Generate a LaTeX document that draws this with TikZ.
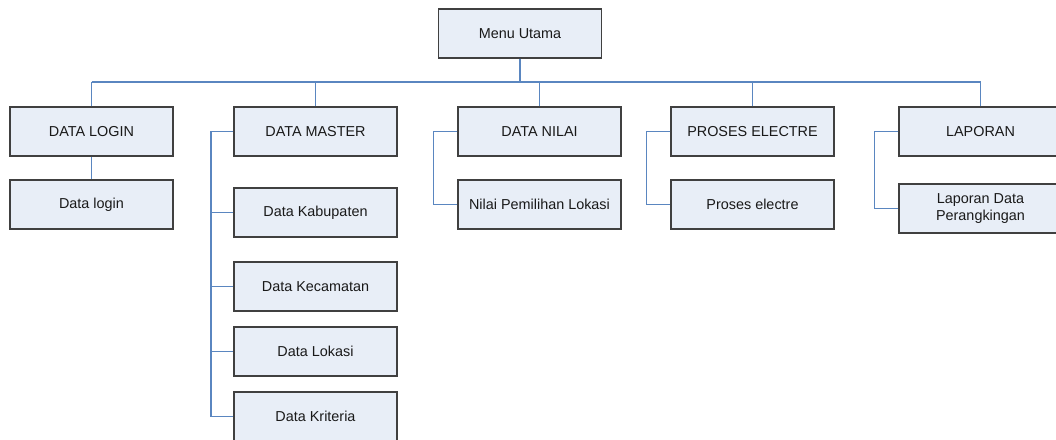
\documentclass[tikz,border=0pt]{standalone}
\usepackage{fontspec}
\setmainfont{Liberation Sans}
\definecolor{boxfill}{HTML}{E8EEF7}
\definecolor{boxline}{HTML}{404040}
\definecolor{linkblue}{HTML}{5A86C0}
\begin{document}
\begin{tikzpicture}[x=1pt,y=-1pt,
  menubox/.style={draw=boxline,fill=boxfill,line width=1.3pt,minimum width=163pt,minimum height=49pt,
    inner sep=0pt,align=center,font=\fontsize{14.4}{16.5}\selectfont,text=black!90},
  link/.style={draw=linkblue,line width=1.1pt}]
\clip (0,0) rectangle (1056,439);
\fill[white] (0,0) rectangle (1056,439);

% top level
\node[menubox] (menu) at (520,33.5) {Menu Utama};

% second level
\node[menubox] (login)  at (91.5,131.5)  {DATA LOGIN};
\node[menubox] (master) at (315.5,131.5) {DATA MASTER};
\node[menubox] (nilai)  at (539.5,131.5) {DATA NILAI};
\node[menubox] (proses) at (752.5,131.5) {PROSES ELECTRE};
\node[menubox] (lap)    at (980.5,131.5) {LAPORAN};

% third level
\node[menubox] (dlogin) at (91.5,204.5)  {Data login};
\node[menubox] (kab)    at (315.5,212.5) {Data Kabupaten};
\node[menubox] (kec)    at (315.5,286.5) {Data Kecamatan};
\node[menubox] (lok)    at (315.5,351.5) {Data Lokasi};
\node[menubox] (krit)   at (315.5,416.5) {Data Kriteria};
\node[menubox] (npl)    at (539.5,204.5) {Nilai Pemilihan Lokasi};
\node[menubox] (pel)    at (752.5,204.5) {Proses electre};
\node[menubox] (lpd)    at (980.5,208.5) {Laporan Data\\Perangkingan};

% bus under the main menu
\coordinate (busL) at (91.5,82);
\coordinate (busR) at (980.5,82);
\draw[link] (busL) -- (busR);
\draw[link] (menu.south) -- (menu.south |- busL);
\foreach \n in {login,master,nilai,proses,lap}
  \draw[link] (\n.north) -- (\n.north |- busL);

% children
\draw[link] (login.south) -- (dlogin.north);
\coordinate (mtrunk) at (211,131.5);
\draw[link] (master.west) -- (mtrunk) |- (krit.west);
\foreach \n in {kab,kec,lok}
  \draw[link] (mtrunk |- \n.west) -- (\n.west);
\draw[link] (nilai.west) -- ++(-24,0) |- (npl.west);
\draw[link] (proses.west) -- ++(-24,0) |- (pel.west);
\draw[link] (lap.west) -- ++(-24,0) |- (lpd.west);
\end{tikzpicture}
\end{document}
